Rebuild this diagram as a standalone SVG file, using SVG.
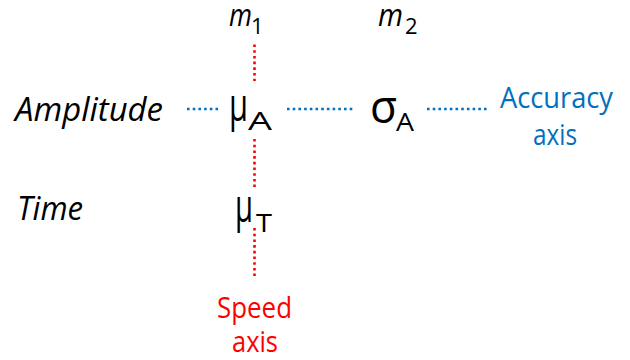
<svg xmlns="http://www.w3.org/2000/svg" width="630" height="360" viewBox="0 0 630 360">
<style>
text{font-family:"Open Sans","Liberation Sans",sans-serif;fill:#000}
.it{font-style:italic}
.big{font-size:46px}
.sub{font-size:26px}
.lab{font-size:32px}
.blue{fill:#0070C0;font-size:30px}
.red{fill:#FF0000;font-size:30px}
.vd{stroke:#FF0000;stroke-width:2.6;stroke-dasharray:2.6 3.1;fill:none}
.hd{stroke:#0070C0;stroke-width:2.6;stroke-dasharray:2.6 3.1;fill:none}
</style>
<rect width="630" height="360" fill="#fff"/>
<g id="connectors">
<line class="vd" x1="254.5" y1="44.5" x2="254.5" y2="81"/>
<line class="vd" x1="254.5" y1="139" x2="254.5" y2="187"/>
<line class="vd" x1="254.5" y1="228" x2="254.5" y2="276"/>
<line class="hd" x1="187" y1="109" x2="219" y2="109"/>
<line class="hd" x1="287" y1="109" x2="355" y2="109"/>
<line class="hd" x1="427" y1="109" x2="487" y2="109"/>
</g>
<g id="m1">
<text class="it" x="229" y="26" font-size="31" textLength="23" lengthAdjust="spacingAndGlyphs">m</text>
<text x="251" y="34" font-size="22">1</text>
</g>
<g id="m2">
<text class="it" x="378" y="26" font-size="31" textLength="25" lengthAdjust="spacingAndGlyphs">m</text>
<text x="405" y="34" font-size="22">2</text>
</g>
<g id="amplitude">
<text class="it lab" x="15" y="121" textLength="148" lengthAdjust="spacingAndGlyphs">Amplitude</text>
</g>
<g id="time">
<text class="it lab" x="17" y="220" textLength="66" lengthAdjust="spacingAndGlyphs">Time</text>
</g>
<g id="muA">
<text class="big" x="229" y="121" textLength="19" lengthAdjust="spacingAndGlyphs">μ</text>
<text class="sub" x="248" y="130" textLength="24" lengthAdjust="spacingAndGlyphs">A</text>
</g>
<g id="sigmaA">
<text class="big" x="370" y="123" textLength="27" lengthAdjust="spacingAndGlyphs">σ</text>
<text class="sub" x="396" y="131" textLength="18" lengthAdjust="spacingAndGlyphs">A</text>
</g>
<g id="muT">
<text class="big" x="235" y="222" textLength="18" lengthAdjust="spacingAndGlyphs">μ</text>
<text class="sub" x="256" y="232" textLength="16" lengthAdjust="spacingAndGlyphs">T</text>
</g>
<g id="accuracy-axis">
<text class="blue" x="500" y="108" textLength="113" lengthAdjust="spacingAndGlyphs">Accuracy</text>
<text class="blue" x="533" y="145" textLength="44" lengthAdjust="spacingAndGlyphs">axis</text>
</g>
<g id="speed-axis">
<text class="red" x="217" y="318" textLength="75" lengthAdjust="spacingAndGlyphs">Speed</text>
<text class="red" x="232" y="352" textLength="46" lengthAdjust="spacingAndGlyphs">axis</text>
</g>
</svg>
